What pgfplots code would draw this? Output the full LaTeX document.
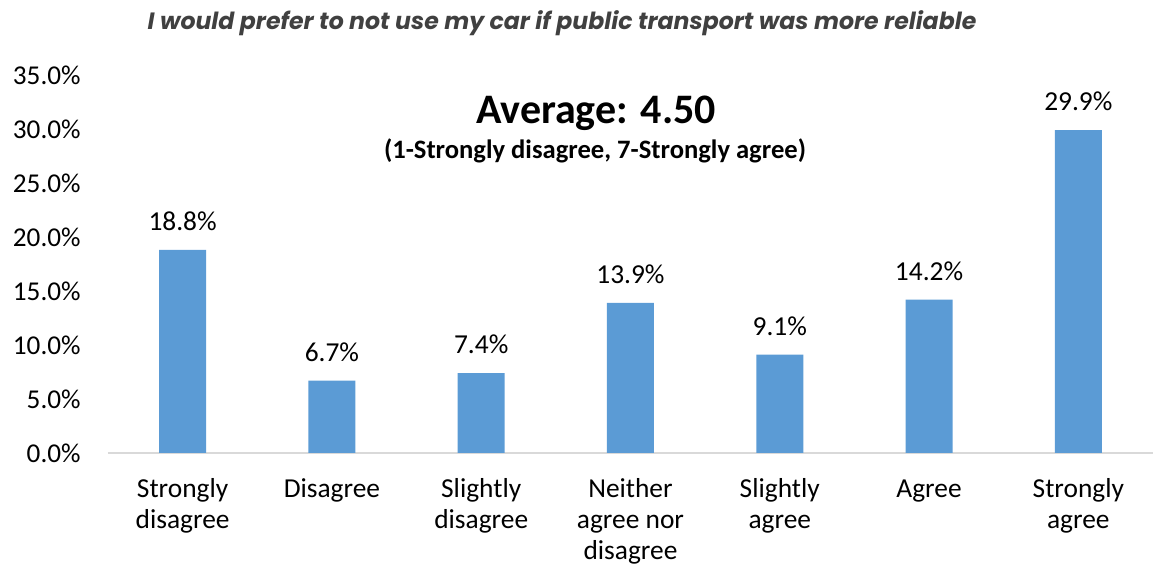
\documentclass[border=0pt]{standalone}
\usepackage{pgfplots}
\pgfplotsset{compat=1.18}
\usepackage{fontspec}
\setmainfont{Carlito}
\newfontfamily\titlefont{Poppins}
\definecolor{barblue}{HTML}{5B9BD5}
\definecolor{axgray}{HTML}{D9D9D9}
\definecolor{titlegray}{HTML}{404040}
\begin{document}
\begin{tikzpicture}
\useasboundingbox (0,0) rectangle (576.5pt,283.5pt);
\begin{axis}[
  at={(54pt,57pt)}, anchor=south west,
  scale only axis, width=522.5pt, height=189pt,
  xmin=-0.5, xmax=6.5, ymin=0, ymax=35,
  ybar, bar width=23.5pt,
  axis x line*=bottom, axis y line*=left,
  x axis line style={color=axgray, line width=0.8pt, -},
  y axis line style={draw=none},
  major tick length=0pt,
  xtick={0,...,6},
  xticklabels={\strut Strongly\\disagree, \strut Disagree, \strut Slightly\\disagree, \strut Neither\\agree nor\\disagree, \strut Slightly\\agree, \strut Agree, \strut Strongly\\agree},
  xticklabel style={align=center, inner sep=0pt, yshift=-11pt, font=\fontsize{13.7}{15.5}\selectfont},
  ytick={0,5,...,35},
  yticklabel={\pgfmathprintnumber[fixed,fixed zerofill,precision=1]{\tick}\%},
  yticklabel style={inner sep=0pt, xshift=-13.5pt, font=\fontsize{13.6}{15}\selectfont},
  /pgf/number format/assume math mode=true,
  nodes near coords={\pgfmathprintnumber[fixed,fixed zerofill,precision=1]{\pgfplotspointmeta}\%},
  every node near coord/.append style={font=\fontsize{13.7}{15}\selectfont, anchor=south, inner sep=0pt, yshift=9.5pt, text=black},
  clip=false,
]
\addplot[fill=barblue, draw=none] coordinates {(0,18.8) (1,6.7) (2,7.4) (3,13.9) (4,9.1) (5,14.2) (6,29.9)};
\end{axis}
\node[font=\titlefont\bfseries\itshape\fontsize{11.8}{13}\selectfont, text=titlegray] at (281pt,272pt) {I would prefer to not use my car if public transport was more reliable};
\node[font=\bfseries\fontsize{21}{24}\selectfont] at (298pt,227pt) {Average: 4.50};
\node[font=\bfseries\fontsize{13.3}{15}\selectfont] at (297.5pt,208pt) {(1-Strongly disagree, 7-Strongly agree)};
\end{tikzpicture}
\end{document}
